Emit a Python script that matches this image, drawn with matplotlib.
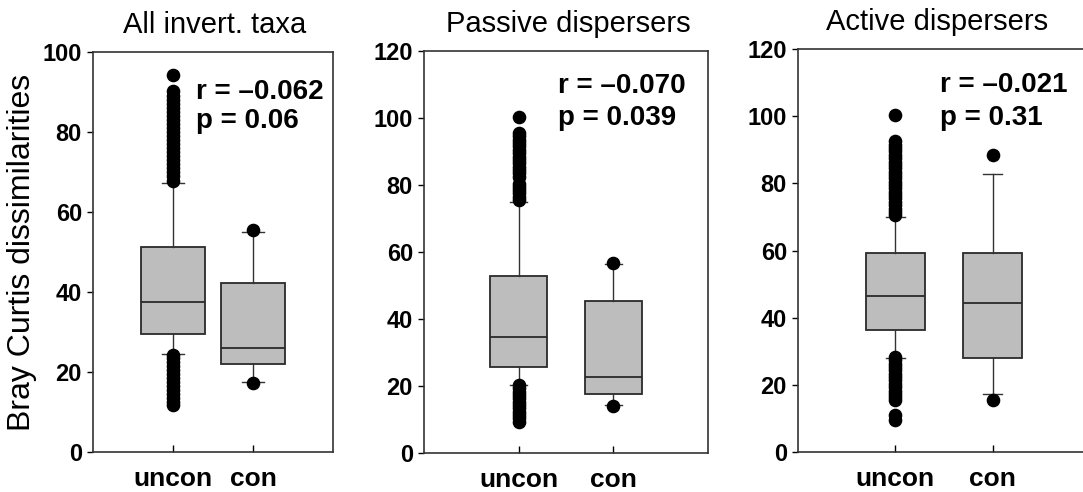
import matplotlib
matplotlib.use("Agg")
import matplotlib.pyplot as plt

plt.rcParams['font.family'] = ['Liberation Sans', 'DejaVu Sans']

# Panel titles, groups and the r / p labels
titles = ["All invert. taxa", "Passive dispersers", "Active dispersers"]
groups = ["uncon", "con"]
r_text = ["r = \u20130.062", "r = \u20130.070", "r = \u20130.021"]
p_text = ["p = 0.06", "p = 0.039", "p = 0.31"]
ymax = [100, 120, 120]

# Box statistics: [uncon, con] per panel
q1 = [[29.5, 22.0], [25.8, 17.6], [36.2, 28.0]]
med = [[37.4, 26.0], [34.6, 22.6], [46.5, 44.5]]
q3 = [[51.3, 42.3], [52.8, 45.5], [59.4, 59.4]]
whislo = [[24.5, 17.5], [20.4, 14.4], [28.0, 17.3]]
whishi = [[67.2, 55.1], [74.9, 56.3], [69.9, 82.8]]

# Outlying points
fliers_all = [
    [67.8, 69, 70, 71, 72, 73, 74, 75, 76, 77, 78, 79, 80, 81, 82, 83, 84,
     85, 86, 87, 88, 89, 90.3, 94.2,
     24.2, 23.5, 22.5, 21.5, 20.5, 19.5, 18.5, 17.5, 16.5, 15.5, 14.5,
     13.5, 12.5, 11.7],
    [55.5, 17.2],
]
fliers_passive = [
    [75.5, 76.5, 77.5, 78.5, 79.5, 80.3, 82.5, 83.5, 84.5, 85.5, 86.5,
     87.5, 88.5, 89.5, 90.5, 91.5, 92.5, 93.5, 94.5, 95.6, 100.3,
     20.2, 19.3, 18.3, 17.3, 16.3, 15.3, 14.3, 13.3, 12.3, 11.3, 10.3, 9.2],
    [56.7, 14.0],
]
fliers_active = [
    [70.5, 71.5, 72.5, 73.5, 74.5, 75.5, 76.5, 77.5, 78.5, 79.5, 80.5,
     81.5, 82.5, 83.5, 84.5, 85.5, 86.5, 87.5, 88.5, 89.5, 90.5, 91.5,
     92.6, 100.2,
     28.3, 27.3, 26.3, 25.3, 24.3, 23.3, 22.3, 21.3, 20.3, 19.3, 18.3,
     17.3, 16.3, 15.5, 11.0, 9.6],
    [88.4, 15.6],
]
fliers = [fliers_all, fliers_passive, fliers_active]

# layout (pixels of the 1083x492 canvas)
W, H = 1083, 492
axes_px = [(93, 52, 333, 452), (424, 51, 708, 453), (798, 49, 1090, 452)]
box_w = [0.8, 0.6, 0.6]
cap_w = [0.28, 0.18, 0.2]
txt_pos = [(0.43, 0.883, 0.81), (0.472, 0.896, 0.816), (0.486, 0.893, 0.811)]
title_x = [0.508, 0.508, 0.476]

fig = plt.figure(figsize=(W / 100, H / 100), dpi=100)

for i in range(3):
    x0, y0, x1, y1 = axes_px[i]
    ax = fig.add_axes([x0 / W, 1 - y1 / H, (x1 - x0) / W, (y1 - y0) / H])
    stats = []
    for j in range(2):
        stats.append(dict(med=med[i][j], q1=q1[i][j], q3=q3[i][j],
                          whislo=whislo[i][j], whishi=whishi[i][j],
                          fliers=fliers[i][j], label=groups[j]))
    ax.bxp(stats, positions=[1, 2], widths=box_w[i], capwidths=cap_w[i],
           patch_artist=True,
           boxprops=dict(facecolor="#bdbdbd", edgecolor="#2a2a2a", linewidth=1.3),
           medianprops=dict(color="#2a2a2a", linewidth=1.3),
           whiskerprops=dict(color="#333333", linewidth=1.0),
           capprops=dict(color="#333333", linewidth=1.0),
           flierprops=dict(marker="o", markerfacecolor="black",
                           markeredgecolor="black", markersize=8.8))
    ax.set_xlim(0, 3)
    ax.set_ylim(0, ymax[i])
    ax.set_yticks(range(0, ymax[i] + 1, 20))
    ax.tick_params(axis="y", direction="out", length=4, width=1, pad=4,
                   labelsize=17)
    ax.tick_params(axis="x", direction="in", length=5, width=1, pad=11,
                   labelsize=19)
    for lab in ax.get_xticklabels() + ax.get_yticklabels():
        lab.set_fontweight("bold")
    for sp in ax.spines.values():
        sp.set_color("#333333")
        sp.set_linewidth(1.2)
    ax.set_title(titles[i], fontsize=21, x=title_x[i], pad=14)
    tx, ty1, ty2 = txt_pos[i]
    ax.text(tx, ty1, r_text[i], transform=ax.transAxes, fontsize=20,
            fontweight="bold", va="baseline")
    ax.text(tx, ty2, p_text[i], transform=ax.transAxes, fontsize=20,
            fontweight="bold", va="baseline")
    if i == 0:
        ax.set_ylabel("Bray Curtis dissimilarities", fontsize=23, labelpad=4)

fig.savefig("out.png", dpi=100)
